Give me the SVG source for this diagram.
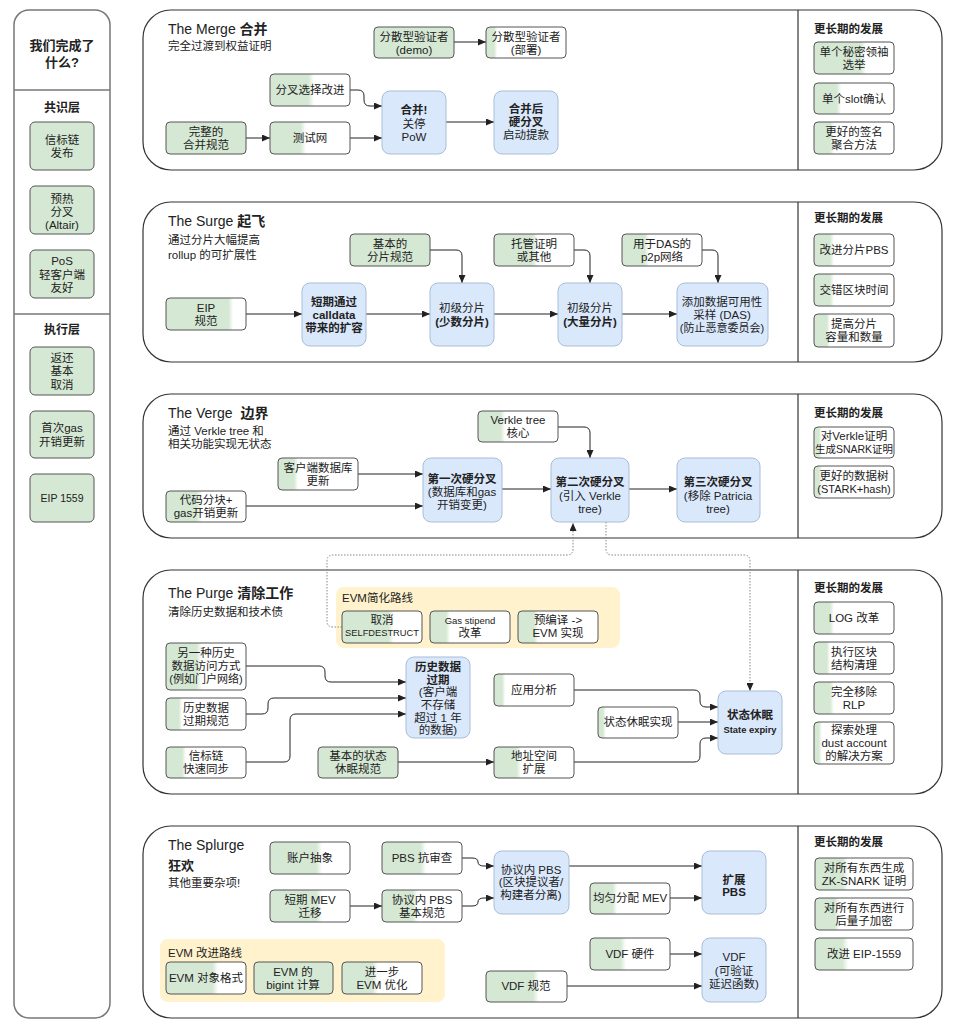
<svg xmlns="http://www.w3.org/2000/svg" width="957" height="1025" viewBox="0 0 957 1025">
<style>
text{font-family:"Liberation Sans","Noto Sans CJK SC",sans-serif;fill:#222;dominant-baseline:central}
.t{font-size:11.5px;text-anchor:middle}
.s{font-size:11.5px}
.h{font-size:14px}
.bo{font-weight:bold}
.pn{fill:#fff;stroke:#333;stroke-width:1.2}
.lc{fill:#fff;stroke:#777;stroke-width:1.5}
.dv{stroke:#333;stroke-width:1.2}
.dl{stroke:#777;stroke-width:1.5}
.g{stroke:#555;stroke-width:1}
.gf{fill:#d5e8d4}
.b{fill:#dae8fc;stroke:#a9bdd6;stroke-width:1}
.y{fill:#fff2cc}
.e{fill:none;stroke:#222;stroke-width:1;marker-end:url(#ar)}
.d{fill:none;stroke:#888;stroke-width:1;stroke-dasharray:1.5 1.5;marker-end:url(#ar)}
</style>
<defs>
<marker id="ar" markerWidth="8" markerHeight="7" refX="8" refY="3.5" orient="auto" markerUnits="userSpaceOnUse"><path d="M0,0 L8,3.5 L0,7 z" fill="#222"/></marker>
<linearGradient id="p10"><stop offset="0.1" stop-color="#d5e8d4"/><stop offset="0.14" stop-color="#fff"/></linearGradient>
<linearGradient id="p15"><stop offset="0.16" stop-color="#d5e8d4"/><stop offset="0.2" stop-color="#fff"/></linearGradient>
<linearGradient id="p20"><stop offset="0.2" stop-color="#d5e8d4"/><stop offset="0.25" stop-color="#fff"/></linearGradient>
<linearGradient id="p30"><stop offset="0.28" stop-color="#d5e8d4"/><stop offset="0.34" stop-color="#fff"/></linearGradient>
<linearGradient id="p40"><stop offset="0.38" stop-color="#d5e8d4"/><stop offset="0.45" stop-color="#fff"/></linearGradient>
<linearGradient id="p50"><stop offset="0.48" stop-color="#d5e8d4"/><stop offset="0.55" stop-color="#fff"/></linearGradient>
<linearGradient id="p60"><stop offset="0.58" stop-color="#d5e8d4"/><stop offset="0.65" stop-color="#fff"/></linearGradient>
<linearGradient id="p80"><stop offset="0.78" stop-color="#d5e8d4"/><stop offset="0.84" stop-color="#fff"/></linearGradient>
<linearGradient id="p08"><stop offset="0.06" stop-color="#d5e8d4"/><stop offset="0.1" stop-color="#fff"/></linearGradient>
</defs>
<rect width="957" height="1025" fill="#fff"/>

<g id="panels">
<rect class="lc" x="14" y="10" width="96" height="1008" rx="15"/>
<line class="dl" x1="14" y1="90" x2="110" y2="90"/>
<line class="dl" x1="14" y1="314" x2="110" y2="314"/>
<rect class="pn" x="143" y="10" width="799" height="160" rx="28"/>
<line class="dv" x1="798" y1="10" x2="798" y2="170"/>
<rect class="pn" x="143" y="202" width="799" height="160" rx="28"/>
<line class="dv" x1="798" y1="202" x2="798" y2="362"/>
<rect class="pn" x="143" y="394" width="799" height="144" rx="28"/>
<line class="dv" x1="798" y1="394" x2="798" y2="538"/>
<rect class="pn" x="143" y="570" width="799" height="224" rx="28"/>
<line class="dv" x1="798" y1="570" x2="798" y2="794"/>
<rect class="pn" x="143" y="826" width="799" height="192" rx="28"/>
<line class="dv" x1="798" y1="826" x2="798" y2="1018"/>
<rect class="y" x="336" y="587" width="284" height="61" rx="8"/>
<rect class="y" x="160" y="939" width="285" height="63" rx="8"/>
</g>

<g id="labels">
<text class="t bo" x="62" y="45" style="font-size:13px">我们完成了</text>
<text class="t bo" x="62" y="62" style="font-size:13px">什么?</text>
<text class="t bo" x="62" y="108" style="font-size:12px">共识层</text>
<text class="t bo" x="62" y="330" style="font-size:12px">执行层</text>

<text class="h" x="168" y="29">The Merge <tspan class="bo">合并</tspan></text>
<text class="s" x="168" y="46">完全过渡到权益证明</text>
<text class="h" x="168" y="221">The Surge <tspan class="bo">起飞</tspan></text>
<text class="s" x="168" y="240">通过分片大幅提高</text>
<text class="s" x="168" y="255">rollup 的可扩展性</text>
<text class="h" x="168" y="413">The Verge <tspan class="bo" dx="4">边界</tspan></text>
<text class="s" x="168" y="431">通过 Verkle tree 和</text>
<text class="s" x="168" y="444">相关功能实现无状态</text>
<text class="h" x="168" y="593">The Purge <tspan class="bo">清除工作</tspan></text>
<text class="s" x="168" y="612">清除历史数据和技术债</text>
<text class="h" x="168" y="845">The Splurge</text>
<text class="h bo" x="168" y="865" style="font-size:13px">狂欢</text>
<text class="s" x="168" y="883">其他重要杂项!</text>
<text class="s" x="342" y="598">EVM简化路线</text>
<text class="s" x="168" y="953">EVM 改进路线</text>

<text class="s bo" x="814" y="29">更长期的发展</text>
<text class="s bo" x="814" y="218">更长期的发展</text>
<text class="s bo" x="814" y="413">更长期的发展</text>
<text class="s bo" x="814" y="588">更长期的发展</text>
<text class="s bo" x="814" y="842">更长期的发展</text>
</g>

<g id="connectors">
<path class="e" d="M454,42 H486"/>
<path class="e" d="M246,138 H270"/>
<path class="e" d="M350,138 H382"/>
<path class="e" d="M446,122 H494"/>
<path class="e" d="M350,90 H358 Q364,90 364,96 V100 Q364,106 370,106 H382"/>

<path class="e" d="M246,314 H302"/>
<path class="e" d="M366,314 H430"/>
<path class="e" d="M494,314 H558"/>
<path class="e" d="M622,314 H677"/>
<path class="e" d="M430,250 H456 Q462,250 462,256 V283"/>
<path class="e" d="M574,250 H584 Q590,250 590,256 V283"/>
<path class="e" d="M702,250 H712 Q718,250 718,256 V283"/>

<path class="e" d="M358,474 H423"/>
<path class="e" d="M246,506 H423"/>
<path class="e" d="M502,489 H551"/>
<path class="e" d="M629,489 H677"/>
<path class="e" d="M558,427 H584 Q590,427 590,433 V458"/>

<path class="d" d="M342,627 H333 Q327,627 327,621 V561 Q327,555 333,555 H567 Q573,555 573,549 V523"/>
<path class="d" d="M606,522 V549 Q606,555 612,555 H744 Q750,555 750,561 V691"/>

<path class="e" d="M246,666 H319 Q325,666 325,672 V676 Q325,682 331,682 H406"/>
<path class="e" d="M246,714 H262 Q268,714 268,708 V704 Q268,698 274,698 H406"/>
<path class="e" d="M246,762 H284 Q290,762 290,756 V720 Q290,714 296,714 H406"/>
<path class="e" d="M398,762 H494"/>
<path class="e" d="M574,690 H694 Q700,690 700,696 V701 Q700,707 706,707 H718"/>
<path class="e" d="M678,722 H718"/>
<path class="e" d="M574,762 H694 Q700,762 700,756 V744 Q700,738 706,738 H718"/>

<path class="e" d="M462,858 H472 Q478,858 478,862 Q478,866 484,866 H494"/>
<path class="e" d="M462,906 H472 Q478,906 478,902 Q478,898 484,898 H494"/>
<path class="e" d="M350,906 H382"/>
<path class="e" d="M569,866 H702"/>
<path class="e" d="M670,898 H702"/>
<path class="e" d="M670,954 H702"/>
<path class="e" d="M567,986 H702"/>
</g>

<g id="beacon"><rect class="g gf" x="30" y="122" width="64" height="48" rx="5"/><text class="t" x="62" y="140">信标链</text><text class="t" x="62" y="153">发布</text></g>
<g id="altair"><rect class="g gf" x="30" y="186" width="64" height="48" rx="5"/><text class="t" x="62" y="199">预热</text><text class="t" x="62" y="212">分叉</text><text class="t" x="62" y="225">(Altair)</text></g>
<g id="pos-light"><rect class="g gf" x="30" y="250" width="64" height="48" rx="5"/><text class="t" x="62" y="261">PoS</text><text class="t" x="62" y="275">轻客户端</text><text class="t" x="62" y="288">友好</text></g>
<g id="refund"><rect class="g gf" x="30" y="347" width="64" height="48" rx="5"/><text class="t" x="62" y="358">返还</text><text class="t" x="62" y="371">基本</text><text class="t" x="62" y="385">取消</text></g>
<g id="gas1"><rect class="g gf" x="30" y="411" width="64" height="47" rx="5"/><text class="t" x="62" y="428">首次gas</text><text class="t" x="62" y="442">开销更新</text></g>
<g id="eip1559"><rect class="g gf" x="30" y="474" width="64" height="48" rx="5"/><text class="t" x="62" y="498" style="font-size:10.5px">EIP 1559</text></g>

<g id="dv-demo"><rect class="g gf" x="374" y="27" width="80" height="31" rx="4"/><text class="t" x="414" y="37">分散型验证者</text><text class="t" x="414" y="50">(demo)</text></g>
<g id="dv-deploy"><rect class="g" fill="url(#p10)" x="486" y="27" width="80" height="31" rx="4"/><text class="t" x="526" y="37">分散型验证者</text><text class="t" x="526" y="50">(部署)</text></g>
<g id="fork-choice"><rect class="g" fill="url(#p50)" x="270" y="74" width="80" height="32" rx="4"/><text class="t" x="310" y="90">分叉选择改进</text></g>
<g id="merge-spec"><rect class="g gf" x="166" y="122" width="80" height="32" rx="4"/><text class="t" x="206" y="132">完整的</text><text class="t" x="206" y="145">合并规范</text></g>
<g id="testnet"><rect class="g" fill="url(#p40)" x="270" y="122" width="80" height="32" rx="4"/><text class="t" x="310" y="138">测试网</text></g>
<g id="merge"><rect class="b" x="382" y="91" width="64" height="63" rx="8"/><text class="t bo" x="414" y="110">合并!</text><text class="t" x="414" y="124">关停</text><text class="t" x="414" y="137">PoW</text></g>
<g id="post-merge"><rect class="b" x="494" y="91" width="64" height="63" rx="8"/><text class="t bo" x="526" y="109">合并后</text><text class="t bo" x="526" y="122">硬分叉</text><text class="t" x="526" y="135">启动提款</text></g>
<g id="ssle"><rect class="g" fill="url(#p60)" x="814" y="42" width="80" height="32" rx="4"/><text class="t" x="854" y="52">单个秘密领袖</text><text class="t" x="854" y="65">选举</text></g>
<g id="ssf"><rect class="g" fill="url(#p30)" x="814" y="83" width="80" height="31" rx="4"/><text class="t" x="854" y="99">单个slot确认</text></g>
<g id="sig-agg"><rect class="g" fill="url(#p20)" x="814" y="122" width="80" height="32" rx="4"/><text class="t" x="854" y="132">更好的签名</text><text class="t" x="854" y="145">聚合方法</text></g>

<g id="basic-shard"><rect class="g gf" x="350" y="234" width="80" height="32" rx="4"/><text class="t" x="390" y="244">基本的</text><text class="t" x="390" y="257">分片规范</text></g>
<g id="eip-spec"><rect class="g" fill="url(#p80)" x="166" y="298" width="80" height="32" rx="4"/><text class="t" x="206" y="308">EIP</text><text class="t" x="206" y="321">规范</text></g>
<g id="calldata"><rect class="b" x="302" y="283" width="64" height="63" rx="8"/><text class="t bo" x="334" y="302">短期通过</text><text class="t bo" x="334" y="315">calldata</text><text class="t bo" x="334" y="328">带来的扩容</text></g>
<g id="shard-few"><rect class="b" x="430" y="283" width="64" height="63" rx="8"/><text class="t" x="462" y="308">初级分片</text><text class="t bo" x="462" y="322">(少数分片)</text></g>
<g id="custody"><rect class="g" fill="url(#p50)" x="494" y="234" width="80" height="32" rx="4"/><text class="t" x="534" y="244">托管证明</text><text class="t" x="534" y="257">或其他</text></g>
<g id="das-p2p"><rect class="g" fill="url(#p30)" x="622" y="234" width="80" height="32" rx="4"/><text class="t" x="662" y="244">用于DAS的</text><text class="t" x="662" y="257">p2p网络</text></g>
<g id="shard-many"><rect class="b" x="558" y="283" width="64" height="63" rx="8"/><text class="t" x="590" y="308">初级分片</text><text class="t bo" x="590" y="322">(大量分片)</text></g>
<g id="das"><rect class="b" x="677" y="283" width="91" height="63" rx="8"/><text class="t" x="722" y="302">添加数据可用性</text><text class="t" x="722" y="315">采样 (DAS)</text><text class="t" x="722" y="328" style="font-size:11px">(防止恶意委员会)</text></g>
<g id="shard-pbs"><rect class="g" fill="url(#p20)" x="814" y="234" width="80" height="32" rx="4"/><text class="t" x="854" y="250">改进分片PBS</text></g>
<g id="slot-time"><rect class="g" fill="url(#p20)" x="814" y="274" width="80" height="32" rx="4"/><text class="t" x="854" y="290">交错区块时间</text></g>
<g id="shard-cap"><rect class="g" fill="url(#p15)" x="814" y="314" width="80" height="33" rx="4"/><text class="t" x="854" y="324">提高分片</text><text class="t" x="854" y="337">容量和数量</text></g>

<g id="verkle-core"><rect class="g" fill="url(#p30)" x="478" y="411" width="80" height="31" rx="4"/><text class="t" x="518" y="420">Verkle tree</text><text class="t" x="518" y="433">核心</text></g>
<g id="client-db"><rect class="g" fill="url(#p20)" x="278" y="458" width="80" height="32" rx="4"/><text class="t" x="318" y="468">客户端数据库</text><text class="t" x="318" y="481">更新</text></g>
<g id="code-chunk"><rect class="g" fill="url(#p40)" x="166" y="491" width="80" height="31" rx="4"/><text class="t" x="206" y="500">代码分块+</text><text class="t" x="206" y="513">gas开销更新</text></g>
<g id="hf1"><rect class="b" x="423" y="458" width="79" height="64" rx="8"/><text class="t bo" x="462" y="479">第一次硬分叉</text><text class="t" x="462" y="492">(数据库和gas</text><text class="t" x="462" y="505">开销变更)</text></g>
<g id="hf2"><rect class="b" x="551" y="458" width="78" height="64" rx="8"/><text class="t bo" x="590" y="482">第二次硬分叉</text><text class="t" x="590" y="496">(引入 Verkle</text><text class="t" x="590" y="509">tree)</text></g>
<g id="hf3"><rect class="b" x="677" y="458" width="83" height="64" rx="8"/><text class="t bo" x="718" y="482">第三次硬分叉</text><text class="t" x="718" y="496">(移除 Patricia</text><text class="t" x="718" y="509">tree)</text></g>
<g id="snark-verkle"><rect class="g" fill="url(#p08)" x="814" y="427" width="80" height="31" rx="4"/><text class="t" x="854" y="436">对Verkle证明</text><text class="t" x="854" y="449" style="font-size:10.5px">生成SNARK证明</text></g>
<g id="better-tree"><rect class="g" fill="url(#p08)" x="814" y="466" width="80" height="32" rx="4"/><text class="t" x="854" y="476">更好的数据树</text><text class="t" x="854" y="489" style="font-size:11px">(STARK+hash)</text></g>

<g id="selfdestruct"><rect class="g" fill="url(#p60)" x="342" y="611" width="80" height="32" rx="4"/><text class="t" x="382" y="620">取消</text><text class="t" x="382" y="633" style="font-size:9.3px">SELFDESTRUCT</text></g>
<g id="gas-stipend"><rect class="g" fill="url(#p20)" x="430" y="611" width="80" height="32" rx="4"/><text class="t" x="470" y="620" style="font-size:9.5px">Gas stipend</text><text class="t" x="470" y="633">改革</text></g>
<g id="precompile"><rect class="g" fill="url(#p20)" x="518" y="611" width="80" height="32" rx="4"/><text class="t" x="558" y="620">预编译 -&gt;</text><text class="t" x="558" y="633">EVM 实现</text></g>
<g id="alt-history"><rect class="g" fill="url(#p40)" x="166" y="643" width="80" height="47" rx="4"/><text class="t" x="206" y="653">另一种历史</text><text class="t" x="206" y="666">数据访问方式</text><text class="t" x="206" y="679" style="font-size:11px">(例如门户网络)</text></g>
<g id="hist-spec"><rect class="g" fill="url(#p15)" x="166" y="698" width="80" height="32" rx="4"/><text class="t" x="206" y="708">历史数据</text><text class="t" x="206" y="721">过期规范</text></g>
<g id="beacon-sync"><rect class="g" fill="url(#p20)" x="166" y="747" width="80" height="31" rx="4"/><text class="t" x="206" y="756">信标链</text><text class="t" x="206" y="769">快速同步</text></g>
<g id="hist-expiry"><rect class="b" x="406" y="657" width="64" height="81" rx="8"/><text class="t bo" x="438" y="667">历史数据</text><text class="t bo" x="438" y="680">过期</text><text class="t" x="438" y="692">(客户端</text><text class="t" x="438" y="705">不存储</text><text class="t" x="438" y="718">超过 1 年</text><text class="t" x="438" y="730">的数据)</text></g>
<g id="state-spec"><rect class="g gf" x="318" y="747" width="80" height="31" rx="4"/><text class="t" x="358" y="756">基本的状态</text><text class="t" x="358" y="769">休眠规范</text></g>
<g id="addr-space"><rect class="g" fill="url(#p30)" x="494" y="747" width="80" height="31" rx="4"/><text class="t" x="534" y="756">地址空间</text><text class="t" x="534" y="769">扩展</text></g>
<g id="app-analysis"><rect class="g" fill="url(#p10)" x="494" y="674" width="80" height="32" rx="4"/><text class="t" x="534" y="690">应用分析</text></g>
<g id="state-impl"><rect class="g" fill="url(#p08)" x="598" y="707" width="80" height="31" rx="4"/><text class="t" x="638" y="722">状态休眠实现</text></g>
<g id="state-expiry"><rect class="b" x="718" y="691" width="64" height="63" rx="8"/><text class="t bo" x="750" y="715">状态休眠</text><text class="t bo" x="750" y="729" style="font-size:9.4px">State expiry</text></g>
<g id="log"><rect class="g" fill="url(#p20)" x="814" y="602" width="80" height="32" rx="4"/><text class="t" x="854" y="618">LOG 改革</text></g>
<g id="block-clean"><rect class="g" fill="url(#p15)" x="814" y="642" width="80" height="32" rx="4"/><text class="t" x="854" y="652">执行区块</text><text class="t" x="854" y="665">结构清理</text></g>
<g id="rlp"><rect class="g" fill="url(#p20)" x="814" y="682" width="80" height="32" rx="4"/><text class="t" x="854" y="692">完全移除</text><text class="t" x="854" y="705">RLP</text></g>
<g id="dust"><rect class="g" fill="url(#p08)" x="814" y="722" width="80" height="42" rx="4"/><text class="t" x="854" y="730">探索处理</text><text class="t" x="854" y="743">dust account</text><text class="t" x="854" y="756">的解决方案</text></g>

<g id="aa"><rect class="g" fill="url(#p60)" x="270" y="842" width="80" height="32" rx="4"/><text class="t" x="310" y="858">账户抽象</text></g>
<g id="pbs-cr"><rect class="g" fill="url(#p50)" x="382" y="842" width="80" height="32" rx="4"/><text class="t" x="422" y="858">PBS 抗审查</text></g>
<g id="mev-mig"><rect class="g" fill="url(#p60)" x="270" y="890" width="80" height="32" rx="4"/><text class="t" x="310" y="900">短期 MEV</text><text class="t" x="310" y="913">迁移</text></g>
<g id="pbs-spec"><rect class="g" fill="url(#p40)" x="382" y="890" width="80" height="32" rx="4"/><text class="t" x="422" y="900">协议内 PBS</text><text class="t" x="422" y="913">基本规范</text></g>
<g id="epbs"><rect class="b" x="494" y="851" width="75" height="63" rx="8"/><text class="t" x="531" y="870">协议内 PBS</text><text class="t" x="531" y="882">(区块提议者/</text><text class="t" x="531" y="895">构建者分离)</text></g>
<g id="mev-burn"><rect class="g" fill="url(#p30)" x="590" y="883" width="80" height="31" rx="4"/><text class="t" x="630" y="898">均匀分配 MEV</text></g>
<g id="ext-pbs"><rect class="b" x="702" y="851" width="64" height="63" rx="8"/><text class="t bo" x="734" y="880">扩展</text><text class="t bo" x="734" y="892">PBS</text></g>
<g id="vdf-hw"><rect class="g" fill="url(#p40)" x="590" y="938" width="80" height="32" rx="4"/><text class="t" x="630" y="954">VDF 硬件</text></g>
<g id="vdf-spec"><rect class="g" fill="url(#p60)" x="486" y="971" width="81" height="31" rx="4"/><text class="t" x="526" y="986">VDF 规范</text></g>
<g id="vdf"><rect class="b" x="702" y="938" width="64" height="64" rx="8"/><text class="t" x="734" y="957">VDF</text><text class="t" x="734" y="971">(可验证</text><text class="t" x="734" y="984">延迟函数)</text></g>
<g id="eof"><rect class="g" fill="url(#p60)" x="166" y="962" width="80" height="32" rx="4"/><text class="t" x="206" y="978">EVM 对象格式</text></g>
<g id="bigint"><rect class="g gf" x="254" y="962" width="79" height="32" rx="4"/><text class="t" x="293" y="972">EVM 的</text><text class="t" x="293" y="985">bigint 计算</text></g>
<g id="evm-opt"><rect class="g" fill="url(#p40)" x="342" y="962" width="80" height="32" rx="4"/><text class="t" x="382" y="972">进一步</text><text class="t" x="382" y="985">EVM 优化</text></g>
<g id="zk-all"><rect class="g" fill="url(#p30)" x="815" y="858" width="98" height="32" rx="4"/><text class="t" x="864" y="868">对所有东西生成</text><text class="t" x="864" y="881">ZK-SNARK 证明</text></g>
<g id="pq"><rect class="g" fill="url(#p20)" x="815" y="898" width="98" height="32" rx="4"/><text class="t" x="864" y="908">对所有东西进行</text><text class="t" x="864" y="921">后量子加密</text></g>
<g id="eip1559-imp"><rect class="g" fill="url(#p30)" x="815" y="938" width="98" height="32" rx="4"/><text class="t" x="864" y="954">改进 EIP-1559</text></g>
</svg>
